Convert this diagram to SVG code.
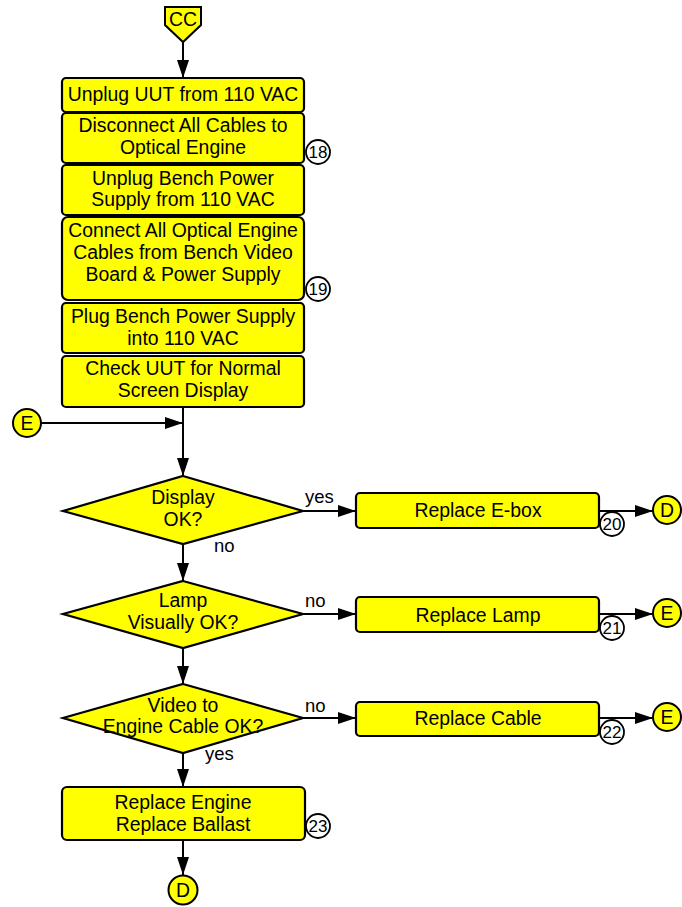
<svg xmlns="http://www.w3.org/2000/svg" width="682" height="907" viewBox="0 0 682 907">
<defs>
<style>
.box{fill:#ffff00;stroke:#000;stroke-width:2.2}
.dia{fill:#ffff00;stroke:#000;stroke-width:2.2}
.badge{fill:#fff;stroke:#000;stroke-width:1.8}
.conn{fill:#ffff00;stroke:#000;stroke-width:2}
text{font-family:"Liberation Sans",Arial,sans-serif;font-size:19.4px;fill:#000;text-anchor:middle}
.num{font-size:17px}
.lbl{font-size:18.5px;text-anchor:start}
.ln{fill:none;stroke:#000;stroke-width:2}
</style>
<marker id="ah" viewBox="0 0 18 12" refX="18" refY="6" markerWidth="18" markerHeight="12" markerUnits="userSpaceOnUse" orient="auto">
<path d="M0,0 L18,6 L0,12 Z" fill="#000"/>
</marker>
</defs>
<rect width="682" height="907" fill="#fff"/>

<g id="connectors">
<line class="ln" x1="183" y1="42" x2="183" y2="78" marker-end="url(#ah)"/>
<line class="ln" x1="41" y1="423" x2="183" y2="423" marker-end="url(#ah)"/>
<line class="ln" x1="183" y1="407" x2="183" y2="476" marker-end="url(#ah)"/>
<line class="ln" x1="303" y1="511" x2="356" y2="511" marker-end="url(#ah)"/>
<line class="ln" x1="599" y1="511" x2="653" y2="511" marker-end="url(#ah)"/>
<line class="ln" x1="183" y1="544" x2="183" y2="581" marker-end="url(#ah)"/>
<line class="ln" x1="303" y1="614" x2="356" y2="614" marker-end="url(#ah)"/>
<line class="ln" x1="599" y1="614" x2="653" y2="614" marker-end="url(#ah)"/>
<line class="ln" x1="183" y1="648" x2="183" y2="684" marker-end="url(#ah)"/>
<line class="ln" x1="303" y1="718" x2="356" y2="718" marker-end="url(#ah)"/>
<line class="ln" x1="599" y1="718" x2="653" y2="718" marker-end="url(#ah)"/>
<line class="ln" x1="183" y1="753" x2="183" y2="787" marker-end="url(#ah)"/>
<line class="ln" x1="183" y1="840" x2="183" y2="875" marker-end="url(#ah)"/>
<text class="lbl" x="305" y="503">yes</text>
<text class="lbl" x="214" y="552">no</text>
<text class="lbl" x="305" y="607">no</text>
<text class="lbl" x="305" y="712">no</text>
<text class="lbl" x="205" y="760">yes</text>
</g>

<g id="cc">
<path class="conn" d="M165,7 L201,7 L201,25 L183,42 L165,25 Z"/>
<text x="183" y="26">CC</text>
</g>

<g id="step1">
<rect class="box" x="62" y="78" width="242" height="34" rx="4"/>
<text x="183" y="101">Unplug UUT from 110 VAC</text>
</g>
<g id="step2">
<rect class="box" x="62" y="113" width="242" height="50" rx="4"/>
<text x="183" y="132">Disconnect All Cables to</text>
<text x="183" y="154">Optical Engine</text>
<circle class="badge" cx="318" cy="152" r="12"/>
<text class="num" x="318" y="158">18</text>
</g>
<g id="step3">
<rect class="box" x="62" y="165" width="242" height="50" rx="4"/>
<text x="183" y="185">Unplug Bench Power</text>
<text x="183" y="206">Supply from 110 VAC</text>
</g>
<g id="step4">
<rect class="box" x="62" y="217" width="242" height="83" rx="6"/>
<text x="183" y="237">Connect All Optical Engine</text>
<text x="183" y="259">Cables from Bench Video</text>
<text x="183" y="281">Board &amp; Power Supply</text>
<circle class="badge" cx="318" cy="289" r="12"/>
<text class="num" x="318" y="295">19</text>
</g>
<g id="step5">
<rect class="box" x="62" y="303" width="242" height="50" rx="4"/>
<text x="183" y="323">Plug Bench Power Supply</text>
<text x="183" y="345">into 110 VAC</text>
</g>
<g id="step6">
<rect class="box" x="62" y="356" width="242" height="51" rx="4"/>
<text x="183" y="375">Check UUT for Normal</text>
<text x="183" y="397">Screen Display</text>
</g>

<g id="e-left">
<circle class="conn" cx="27" cy="423" r="14"/>
<text x="27" y="430">E</text>
</g>

<g id="dec1">
<polygon class="dia" points="183,476 303,511 183,544 63,511"/>
<text x="183" y="504">Display</text>
<text x="183" y="526">OK?</text>
</g>
<g id="ebox">
<rect class="box" x="356" y="493" width="243" height="35" rx="4"/>
<text x="478" y="517">Replace E-box</text>
<circle class="badge" cx="612" cy="524" r="12"/>
<text class="num" x="612" y="530">20</text>
</g>
<g id="d-right">
<circle class="conn" cx="667" cy="510" r="14"/>
<text x="667" y="517">D</text>
</g>

<g id="dec2">
<polygon class="dia" points="183,581 303,614 183,648 63,614"/>
<text x="183" y="607">Lamp</text>
<text x="183" y="629">Visually OK?</text>
</g>
<g id="lamp">
<rect class="box" x="356" y="597" width="243" height="35" rx="4"/>
<text x="478" y="622">Replace Lamp</text>
<circle class="badge" cx="612" cy="628" r="12"/>
<text class="num" x="612" y="634">21</text>
</g>
<g id="e-right1">
<circle class="conn" cx="667" cy="613" r="14"/>
<text x="667" y="620">E</text>
</g>

<g id="dec3">
<polygon class="dia" points="183,684 303,718 183,753 63,718"/>
<text x="183" y="712">Video to</text>
<text x="183" y="733">Engine Cable OK?</text>
</g>
<g id="cable">
<rect class="box" x="356" y="702" width="243" height="34" rx="4"/>
<text x="478" y="725">Replace Cable</text>
<circle class="badge" cx="612" cy="732" r="12"/>
<text class="num" x="612" y="738">22</text>
</g>
<g id="e-right2">
<circle class="conn" cx="667" cy="717" r="14"/>
<text x="667" y="724">E</text>
</g>

<g id="engine">
<rect class="box" x="62" y="787" width="243" height="53" rx="5"/>
<text x="183" y="809">Replace Engine</text>
<text x="183" y="831">Replace Ballast</text>
<circle class="badge" cx="318" cy="826" r="12"/>
<text class="num" x="318" y="832">23</text>
</g>
<g id="d-bottom">
<circle class="conn" cx="183" cy="890" r="14.5"/>
<text x="183" y="897">D</text>
</g>
</svg>
